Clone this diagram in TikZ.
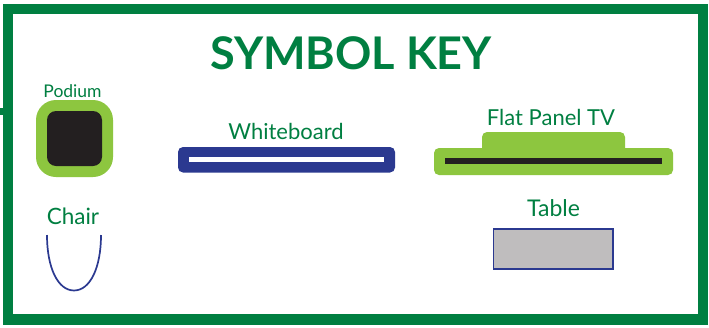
\documentclass[tikz,border=0pt]{standalone}
\usepackage{fontspec}
\setmainfont{Lato}
\definecolor{keygreen}{HTML}{007F41}
\definecolor{lime}{HTML}{8DC63F}
\definecolor{navy}{HTML}{2B3990}
\definecolor{ink}{HTML}{231F20}
\definecolor{tablegray}{HTML}{BFBDBE}
\tikzset{
  x=1pt,y=-1pt,
  label text/.style={text=keygreen,font=\fontsize{22}{24}\selectfont,inner sep=0pt,anchor=base},
  title text/.style={text=keygreen,font=\fontsize{45}{50}\selectfont\bfseries,inner sep=0pt,anchor=base},
}
\begin{document}
\begin{tikzpicture}
\useasboundingbox (0,0) rectangle (709,327);
\fill[white] (0,0) rectangle (709,327);
% frame
\draw[keygreen,line width=10.5pt] (8,9) rectangle (703,319.5);
\fill[keygreen] (0,108) rectangle (3,115);
% title
\node[title text] (title) at (351,69.5) {SYMBOL KEY};
% podium
\fill[lime,rounded corners=20pt] (36,100) rectangle (113,177);
\fill[ink,rounded corners=9pt] (47,111) rectangle (102,166);
\node[label text,font=\fontsize{17.5}{19}\selectfont] (podium) at (72.5,97) {Podium};
% whiteboard
\fill[navy,rounded corners=5pt] (178,147) rectangle (395,172.5);
\fill[white] (189,157) rectangle (384,162);
\node[label text] (whiteboard) at (286,139) {Whiteboard};
% flat panel
\fill[lime,rounded corners=5pt] (482,132) rectangle (625,160);
\fill[lime,rounded corners=5pt] (434,148) rectangle (673,175);
\fill[ink] (445,158) rectangle (662,164);
\node[label text] (tv) at (551,125) {Flat Panel TV};
% table
\draw[navy,fill=tablegray,line width=1.3pt] (493.5,229) rectangle (613,269);
\node[label text,font=\fontsize{23}{25}\selectfont] (tablelabel) at (553.5,216) {Table};
% chair
\node[label text,font=\fontsize{22.5}{24}\selectfont] (chair) at (73,224) {Chair};
\draw[navy,line width=1.7pt] (47,235) .. controls (47,268) and (58,290.5) .. (74,290.5) .. controls (90,290.5) and (101,268) .. (101,235);
\end{tikzpicture}
\end{document}
